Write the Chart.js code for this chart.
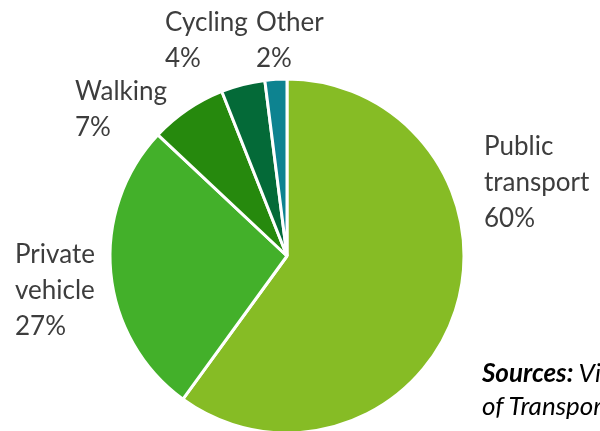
<!DOCTYPE html>
<html>
<head>
<meta charset="utf-8">
<script src="https://cdn.jsdelivr.net/npm/chart.js@4.4.0/dist/chart.umd.min.js"></script>
<style>
  html, body { margin: 0; padding: 0; background: #fff; overflow: hidden; }
  #wrap { position: relative; width: 600px; height: 431px; }
  canvas { position: absolute; left: 0; top: 0; }
  .lbl { position: absolute; font-family: Lato, "Open Sans", sans-serif; font-size: 26px; line-height: 36px; color: #3d3d3d; white-space: nowrap; }
  .src { position: absolute; font-family: Lato, "Open Sans", sans-serif; font-size: 26px; line-height: 33px; color: #000; font-style: italic; white-space: nowrap; }
</style>
</head>
<body>
<div id="wrap">
  <canvas id="c" width="600" height="431"></canvas>
</div>
<script>
// ---- data ----
const categories = ["Public transport", "Private vehicle", "Walking", "Cycling", "Other"];
const shares = [60, 27, 7, 4, 2];
const labelLines = [["Public", "transport"], ["Private", "vehicle"], ["Walking"], ["Cycling"], ["Other"]];
const sourceLines = ["Sources:", "Victorian Department", "of Transport"];

// ---- styles ----
const colors = ["#86BC25", "#43B02A", "#26890D", "#046A38", "#0D8390"];
const labelPos = [[484, 127], [15, 235], [75, 72], [165, 3], [256, 3]];

const ctx = document.getElementById('c').getContext('2d');
new Chart(ctx, {
  type: 'pie',
  data: {
    labels: categories,
    datasets: [{
      data: shares,
      backgroundColor: colors,
      borderColor: '#ffffff',
      borderWidth: 3,
      radius: 177
    }]
  },
  options: {
    responsive: false,
    animation: false,
    rotation: 0,
    layout: { padding: { left: 109, right: 135, top: 81, bottom: 0 } },
    plugins: { legend: { display: false }, tooltip: { enabled: false } }
  }
});

const wrap = document.getElementById('wrap');
categories.forEach((c, i) => {
  const d = document.createElement('div');
  d.className = 'lbl';
  d.style.left = labelPos[i][0] + 'px';
  d.style.top = labelPos[i][1] + 'px';
  d.innerHTML = labelLines[i].concat([shares[i] + '%']).join('<br>');
  wrap.appendChild(d);
});
const s = document.createElement('div');
s.className = 'src';
s.style.left = '482px';
s.style.top = '356px';
s.innerHTML = '<b>' + sourceLines[0] + '</b> ' + sourceLines[1] + '<br>' + sourceLines[2];
wrap.appendChild(s);
</script>
</body>
</html>
